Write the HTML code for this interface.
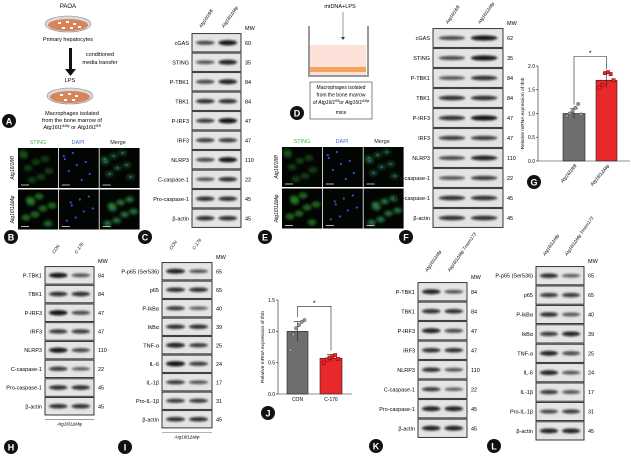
<!DOCTYPE html>
<html><head><meta charset="utf-8">
<style>
html,body{margin:0;padding:0;background:#fff;}
svg{display:block;font-family:"Liberation Sans",sans-serif;}
</style></head>
<body>
<svg id="fig" width="631" height="456" viewBox="0 0 631 456" xmlns="http://www.w3.org/2000/svg">
<defs>
<filter id="blur" x="-50%" y="-100%" width="200%" height="300%"><feGaussianBlur stdDeviation="1.0"/></filter>
<filter id="blur2" x="-50%" y="-50%" width="200%" height="200%"><feGaussianBlur stdDeviation="1.2"/></filter>
</defs>

<g>
<text x="68" y="8" font-size="6" text-anchor="middle">PAOA</text>
<ellipse cx="68" cy="24" rx="23" ry="8" fill="#d9d9d9" stroke="#888" stroke-width="0.6"/>
<ellipse cx="68" cy="25" rx="20" ry="6" fill="#d8845a"/>
<g fill="#fff"><rect x="58" y="22" width="3" height="2"/><rect x="66" y="21" width="3" height="2"/><rect x="73" y="23" width="3" height="2"/><rect x="62" y="27" width="3" height="2"/><rect x="70" y="27" width="3" height="2"/><rect x="78" y="26" width="3" height="2"/></g>
<text x="68" y="41" font-size="5.5" text-anchor="middle">Primary hepatocytes</text>
<rect x="69" y="48" width="3" height="22" fill="#111"/>
<polygon points="65,69 76,69 70.5,76" fill="#111"/>
<text x="100" y="56" font-size="5.5" text-anchor="middle">conditioned</text>
<text x="100" y="64" font-size="5.5" text-anchor="middle">media transfer</text>
<text x="70" y="82" font-size="5.5" text-anchor="middle">LPS</text>
<ellipse cx="70" cy="96" rx="23" ry="8" fill="#d9d9d9" stroke="#888" stroke-width="0.6"/>
<ellipse cx="70" cy="97" rx="20" ry="6" fill="#d8845a"/>
<g fill="#fff"><rect x="60" y="94" width="3" height="2"/><rect x="68" y="93" width="3" height="2"/><rect x="75" y="95" width="3" height="2"/><rect x="64" y="99" width="3" height="2"/><rect x="72" y="99" width="3" height="2"/></g>
<text x="72" y="115" font-size="5.5" text-anchor="middle">Macrophages isolated</text>
<text x="72" y="122" font-size="5.5" text-anchor="middle">from the bone marrow of</text>
<text x="72" y="129" font-size="5.5" text-anchor="middle" font-style="italic">Atg16l1<tspan font-size="3.5" dy="-2">ΔMφ</tspan><tspan dy="2" font-style="normal"> or </tspan>Atg16l1<tspan font-size="3.5" dy="-2">fl/fl</tspan></text>
</g>

<g>
<text x="340" y="8" font-size="5.5" text-anchor="middle">mtDNA+LPS</text>
<line x1="343" y1="12" x2="343" y2="38" stroke="#333" stroke-width="0.5"/>
<polygon points="341,37 345,37 343,40" fill="#333"/>
<rect x="310" y="45" width="56" height="30" fill="#fbe1d8"/>
<rect x="310" y="67" width="56" height="5" fill="#f4a45c"/>
<path d="M309 26 V76 H368 V26" fill="none" stroke="#999" stroke-width="2"/>
<rect x="310" y="82" width="62" height="37" fill="#fff" stroke="#333" stroke-width="0.6"/>
<text x="341" y="89" font-size="5" text-anchor="middle">Macrophages isolated</text>
<text x="341" y="96.5" font-size="5" text-anchor="middle">from the bone marrow</text>
<text x="341" y="104" font-size="5" text-anchor="middle" font-style="italic">of Atg16l1<tspan font-size="3.3" dy="-2">fl/fl</tspan><tspan dy="2">or Atg16l1</tspan><tspan font-size="3.3" dy="-2">ΔMφ</tspan></text>
<text x="341" y="114" font-size="5" text-anchor="middle">mice</text>
</g>

<g id="dyn"></g>
</svg>
<script>
const gCategories = ['Atg16l1fl/fl', 'Atg16l1ΔMφ'];
const gMeans = [1.0, 1.7];
const gSD = [0.1, 0.15];
const gPoints0 = [0.95, 1.0, 1.05, 1.12, 1.2, 0.98];
const gPoints1 = [1.55, 1.6, 1.85, 1.87, 1.83, 1.7];
const gTicks = [0.0, 0.5, 1.0, 1.5, 2.0];

const jCategories = ['CON', 'C-176'];
const jMeans = [1.0, 0.57];
const jSD = [0.16, 0.06];
const jPoints0 = [0.7, 0.95, 1.05, 1.1, 1.15, 1.18];
const jPoints1 = [0.5, 0.55, 0.58, 0.6, 0.62, 0.56];
const jTicks = [0.0, 0.5, 1.0, 1.5];

const NS = 'http://www.w3.org/2000/svg';
const root = document.getElementById('dyn');
function el(tag, attrs, parent, text) {
  const e = document.createElementNS(NS, tag);
  for (const k in attrs) e.setAttribute(k, attrs[k]);
  if (text !== undefined) e.textContent = text;
  (parent || root).appendChild(e);
  return e;
}
function grp(name, parent) {
  const g = el('g', {}, parent);
  
  
  return g;
}

const letters = [['A',9,121],['B',11,237],['C',145,237],['D',297,113],['E',265,237],['F',406,237],['G',534,182],['H',11,447],['I',125,447],['J',268,413],['K',376,446],['L',494,446]];
letters.forEach(([t,x,y]) => {
  const g = grp('panel-label-' + t.toLowerCase());
  el('circle', {cx:x, cy:y, r:7, fill:'#111'}, g);
  el('text', {x:x, y:y+3.3, 'font-size':9, fill:'#fff', 'text-anchor':'middle', 'font-weight':'bold'}, g, t);
});

function micro(name, x0, y0, cw, ch, rowNames) {
  const g = grp(name);
  ['STING','DAPI','Merge'].forEach((c,i) => {
    el('text', {x:x0+cw*i+cw/2, y:y0-4, 'font-size':5.5, 'text-anchor':'middle', fill: i==0?'#4caf50':(i==1?'#4a6fd0':'#222')}, g, c);
  });
  rowNames.forEach((r,ri) => {
    const yy = y0 + ri*(ch+1.5);
    el('text', {x:0, y:0, 'font-size':5, 'text-anchor':'middle', 'font-style':'italic', transform:`translate(${x0-4},${yy+ch/2}) rotate(-90)`}, g, r);
    for (let ci=0; ci<3; ci++) {
      const xx = x0 + ci*(cw+0.8);
      el('rect', {x:xx, y:yy, width:cw, height:ch, fill:'#030503'}, g);
      const bright = ri==1 ? 0.6 : 0.35;
      for (let k=0; k<8; k++) {
        const px = xx + 5 + ((k*13 + ri*7) % (cw-10));
        const py = yy + 5 + ((k*9 + ci*3 + ri*5) % (ch-10));
        if (ci != 1) el('ellipse', {cx:px, cy:py, rx:4.5, ry:3.2, fill:'#2f9a2f', opacity:bright, filter:'url(#blur2)'}, g);
        if (ci != 0) el('circle', {cx:px, cy:py, r:1.1, fill:'#3050e0'}, g);
      }
      el('line', {x1:xx+3, y1:yy+ch-3, x2:xx+11, y2:yy+ch-3, stroke:'#fff', 'stroke-width':0.7}, g);
    }
  });
}
micro('panel-b-microscopy', 18, 148, 40, 40, ['Atg16l1fl/fl','Atg16l1ΔMφ']);
micro('panel-e-microscopy', 282, 147, 40, 40, ['Atg16l1fl/fl','Atg16l1ΔMφ']);

function blot(name, x0, x1, y0, rowH, labels, mws, ints, lanes, laneY, foot) {
  const g = grp(name);
  const w = x1 - x0;
  lanes.forEach((ln,i) => {
    const cx = x0 + w*(0.27 + 0.46*i);
    el('text', {x:0, y:0, 'font-size':4.5, 'font-style':'italic', transform:`translate(${cx-4},${laneY}) rotate(-55)`}, g, ln);
  });
  el('text', {x:x1+4, y:y0-3, 'font-size':5.5}, g, 'MW');
  labels.forEach((lb,r) => {
    const yy = y0 + r*rowH;
    const rg = grp('blot-row-' + lb.toLowerCase().replace(/[^a-z0-9]+/g,'-'), g);
    el('rect', {x:x0, y:yy+0.6, width:w, height:rowH-1.2, fill:'#e4e4e4', stroke:'#222', 'stroke-width':0.9}, rg);
    el('text', {x:x0-3, y:yy+rowH/2+2, 'font-size':5.5, 'text-anchor':'end'}, rg, lb);
    el('text', {x:x1+4, y:yy+rowH/2+2, 'font-size':5.5}, rg, mws[r]);
    ints[r].forEach((v,i) => {
      const cx = x0 + w*(0.27 + 0.46*i);
      el('ellipse', {cx:cx, cy:yy+rowH/2, rx:w*0.19, ry:1.4+v*1.3, fill:'#0a0a0a', opacity:0.45+0.55*v, filter:'url(#blur)'}, rg);
    });
  });
  if (foot) {
    const yb = y0 + labels.length*rowH + 4;
    el('line', {x1:x0, y1:yb, x2:x1, y2:yb, stroke:'#666', 'stroke-width':0.6}, g);
    el('text', {x:(x0+x1)/2, y:yb+6, 'font-size':4.5, 'text-anchor':'middle', 'font-style':'italic'}, g, foot);
  }
}
const fl = 'Atg16l1fl/fl', dm = 'Atg16l1ΔMφ';
blot('panel-c-blot', 192, 241, 33, 19.5,
 ['cGAS','STING','P-TBK1','TBK1','P-IRF3','IRF3','NLRP3','C-caspase-1','Pro-caspase-1','β-actin'],
 ['60','35','84','84','47','47','110','22','45','45'],
 [[0.5,0.9],[0.4,0.8],[0.5,0.8],[0.7,0.7],[0.6,0.95],[0.6,0.6],[0.5,0.9],[0.4,0.7],[0.7,0.7],[0.7,0.7]],
 [fl, dm], 28, null);
blot('panel-f-blot', 433, 503, 28, 20,
 ['cGAS','STING','P-TBK1','TBK1','P-IRF3','IRF3','NLRP3','C-caspase-1','Pro-caspase-1','β-actin'],
 ['62','35','84','84','47','47','110','22','45','45'],
 [[0.5,0.9],[0.5,0.9],[0.4,0.7],[0.7,0.7],[0.7,0.95],[0.6,0.6],[0.5,0.8],[0.4,0.6],[0.7,0.7],[0.7,0.7]],
 [fl, dm], 24, null);
blot('panel-h-blot', 45, 94, 266, 18.7,
 ['P-TBK1','TBK1','P-IRF3','IRF3','NLRP3','C-caspase-1','Pro-caspase-1','β-actin'],
 ['84','84','47','47','110','22','45','45'],
 [[0.9,0.4],[0.7,0.7],[0.95,0.5],[0.6,0.6],[0.9,0.5],[0.6,0.3],[0.7,0.7],[0.7,0.7]],
 ['CON','C-176'], 254, dm);
blot('panel-i-blot', 162, 212, 262, 18.5,
 ['P-p65 (Ser536)','p65','P-IkBα','IkBα','TNF-α','IL-6','IL-1β','Pro-IL-1β','β-actin'],
 ['65','65','40','39','25','24','17','31','45'],
 [[0.8,0.4],[0.7,0.7],[0.6,0.3],[0.7,0.7],[0.8,0.6],[0.95,0.6],[0.6,0.4],[0.6,0.6],[0.7,0.7]],
 ['CON','C-176'], 250, dm);
blot('panel-k-blot', 418, 467, 282, 19.5,
 ['P-TBK1','TBK1','P-IRF3','IRF3','NLRP3','C-caspase-1','Pro-caspase-1','β-actin'],
 ['84','84','47','47','110','22','45','45'],
 [[0.8,0.4],[0.7,0.7],[0.8,0.5],[0.7,0.7],[0.7,0.4],[0.6,0.3],[0.8,0.8],[0.8,0.8]],
 [dm, dm+' Tmem173'], 272, null);
blot('panel-l-blot', 536, 584, 266, 19.4,
 ['P-p65 (Ser536)','p65','P-IkBα','IkBα','TNF-α','IL-6','IL-1β','Pro-IL-1β','β-actin'],
 ['65','65','40','39','25','24','17','31','45'],
 [[0.7,0.3],[0.6,0.6],[0.7,0.4],[0.6,0.8],[0.8,0.5],[0.8,0.4],[0.6,0.4],[0.5,0.6],[0.8,0.8]],
 [dm, dm+' Tmem173'], 256, null);

function barChart(name, axX, axEnd, y0px, yTopPx, maxV, ticks, cats, means, sds, pts, bars, ylab, brY, rotLabels, markers) {
  const g = grp(name);
  const ys = v => y0px - (v/maxV)*(y0px - yTopPx);
  el('line', {x1:axX, y1:ys(ticks[ticks.length-1]), x2:axX, y2:y0px, stroke:'#222', 'stroke-width':0.6}, g);
  el('line', {x1:axX, y1:y0px, x2:axEnd, y2:y0px, stroke:'#222', 'stroke-width':0.6}, g);
  ticks.forEach(t => {
    el('line', {x1:axX-2, y1:ys(t), x2:axX, y2:ys(t), stroke:'#222', 'stroke-width':0.6}, g);
    el('text', {x:axX-3, y:ys(t)+1.8, 'font-size':5, 'text-anchor':'end'}, g, t.toFixed(1));
  });
  el('text', {x:0, y:0, 'font-size':4.8, 'text-anchor':'middle', transform:`translate(${axX-14},${(y0px+ys(ticks[ticks.length-1]))/2}) rotate(-90)`}, g, ylab);
  const cols = ['#6e6e6e', '#e8282a'];
  const cxs = [];
  bars.forEach(([bx0,bx1],i) => {
    const cx = (bx0+bx1)/2; cxs.push(cx);
    const bar = el('rect', {x:bx0, y:ys(means[i]), width:bx1-bx0, height:y0px-ys(means[i]), fill:cols[i], stroke:'#222', 'stroke-width':0.6}, g);
    
    el('line', {x1:cx, y1:ys(means[i]+sds[i]), x2:cx, y2:ys(means[i]-sds[i]), stroke:'#222', 'stroke-width':0.6}, g);
    el('line', {x1:cx-4, y1:ys(means[i]+sds[i]), x2:cx+4, y2:ys(means[i]+sds[i]), stroke:'#222', 'stroke-width':0.6}, g);
    pts[i].forEach((p,k) => {
      const px = cx - 7 + (k % 6) * 2.8;
      if (markers[i]=='sq') el('rect', {x:px-1.7, y:ys(p)-1.7, width:3.4, height:3.4, fill:'#e8282a', stroke:'#600', 'stroke-width':0.4}, g);
      else el('circle', {cx:px, cy:ys(p), r:1.7, fill:'#999', stroke:'#333', 'stroke-width':0.4}, g);
    });
    if (rotLabels) el('text', {x:0, y:0, 'font-size':4.8, 'font-style':'italic', 'text-anchor':'end', transform:`translate(${cx+3},${y0px+5}) rotate(-50)`}, g, cats[i]);
    else el('text', {x:cx, y:y0px+7, 'font-size':5, 'text-anchor':'middle'}, g, cats[i]);
  });
  const top = ys(brY);
  el('path', {d:`M${cxs[0]} ${ys(means[0]+sds[0])-4} V${top} H${cxs[1]} V${ys(Math.max(means[1]+sds[1],0))-4}`, fill:'none', stroke:'#222', 'stroke-width':0.6}, g);
  el('text', {x:(cxs[0]+cxs[1])/2, y:top-1, 'font-size':7, 'text-anchor':'middle'}, g, '*');
}
barChart('panel-g-chart', 538, 630, 161, 66, 2.0, gTicks, gCategories, gMeans, gSD, [gPoints0, gPoints1], [[563,585],[596,617]], 'Relative mRNA expression of Ifnb', 2.2, true, ['c','sq']);
barChart('panel-j-chart', 278, 352, 394, 300, 1.5, jTicks, jCategories, jMeans, jSD, [jPoints0, jPoints1], [[287,308],[320,342]], 'Relative mRNA expression of Ifnb', 1.4, false, ['c','sq']);
</script>
</body></html>
